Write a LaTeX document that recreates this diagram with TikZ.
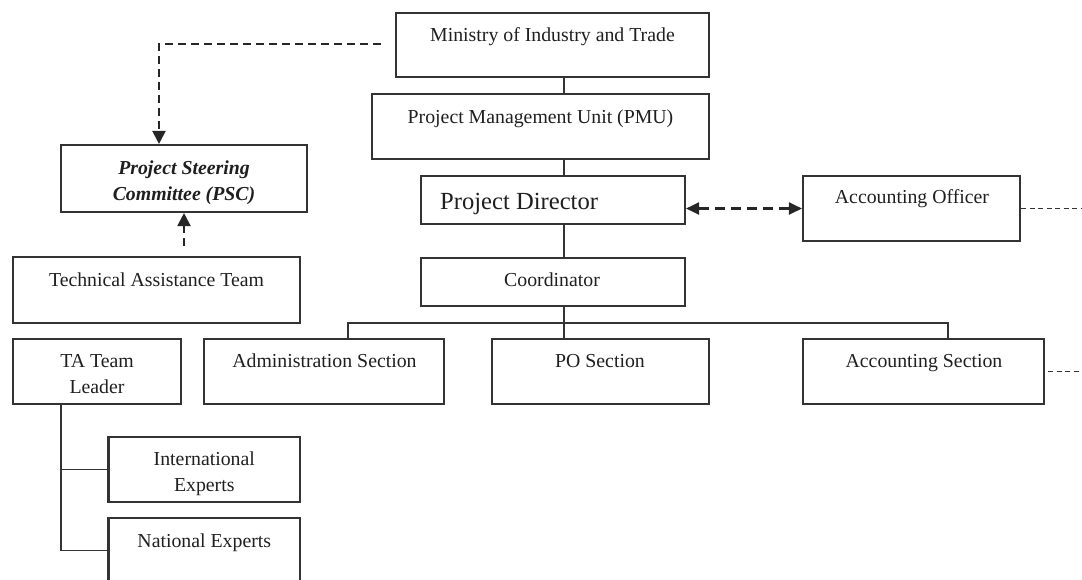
\documentclass[tikz,border=0pt]{standalone}
\usepackage{fontspec}
\setmainfont{Liberation Serif}
\usetikzlibrary{arrows.meta,calc}
\begin{document}
\begin{tikzpicture}[x=1pt,y=-1pt,
  box/.style={draw=black!80, line width=2.1pt, rectangle, inner sep=0pt, minimum height=65pt},
  txt/.style={anchor=base, inner sep=0pt, font=\fontsize{19.8}{24}\selectfont, text=black!88},
  link/.style={draw=black!80, line width=1.8pt},
  dlink/.style={draw=black!85, line width=2.1pt, dash pattern=on 8pt off 5pt},
  plink/.style={draw=black!85, line width=2.1pt, dash pattern=on 10pt off 6pt},
  tdash/.style={draw=black!80, line width=1.5pt, dash pattern=on 5pt off 3.5pt},
  tri/.style={-{Triangle[length=13pt,width=13pt]}},
  dtri/.style={{Triangle[length=13pt,width=12pt]}-{Triangle[length=13pt,width=12pt]}},
]
\useasboundingbox (0,0) rectangle (1082,579);
\clip (0,0) rectangle (1082,579);

% boxes
\node[box, minimum width=313pt, minimum height=64pt] (min) at (552.5,45) {};
\node[box, minimum width=337pt] (pmu) at (540.5,126.5) {};
\node[box, minimum width=264pt, minimum height=48pt] (pd) at (553,200) {};
\node[box, minimum width=264pt, minimum height=48pt] (co) at (553,282) {};
\node[box, minimum width=217pt] (ao) at (911.5,208.5) {};
\node[box, minimum width=246pt, minimum height=67pt] (psc) at (184,178.5) {};
\node[box, minimum width=287pt, minimum height=66pt] (tat) at (156.5,290) {};
\node[box, minimum width=168pt] (tal) at (97,371.5) {};
\node[box, minimum width=240pt] (adm) at (324,371.5) {};
\node[box, minimum width=217pt] (po) at (600.5,371.5) {};
\node[box, minimum width=241pt] (as) at (923.5,371.5) {};
\node[box, minimum width=191.5pt] (ie) at (204.25,469.5) {};
\node[box, minimum width=191.5pt] (ne) at (204.25,550.5) {};

% texts
\node[txt] (tmin) at (552.5,41.5) {Ministry of Industry and Trade};
\node[txt] (tpmu) at (540.5,123) {Project Management Unit (PMU)};
\node[txt, anchor=base west, font=\fontsize{24.6}{28}\selectfont] (tpd) at (440,209) {Project Director};
\node[txt] (tco) at (552,286) {Coordinator};
\node[txt] (tao) at (912,203.5) {Accounting Officer};
\node[txt, font=\fontsize{19.8}{24}\selectfont\bfseries\itshape] (tpsca) at (184,174.5) {Project Steering};
\node[txt, font=\fontsize{19.8}{24}\selectfont\bfseries\itshape] (tpscb) at (184,200) {Committee (PSC)};
\node[txt] (ttat) at (156.5,286) {Technical Assistance Team};
\node[txt] (ttala) at (97,367.7) {TA Team};
\node[txt] (ttalb) at (97,393.5) {Leader};
\node[txt] (tadm) at (324.5,367.7) {Administration Section};
\node[txt] (tpo) at (600,367.2) {PO Section};
\node[txt] (tas) at (924,367.7) {Accounting Section};
\node[txt] (tiea) at (204.3,465.7) {International};
\node[txt] (tieb) at (204.3,491) {Experts};
\node[txt] (tne) at (204.3,547.3) {National Experts};

% solid connectors
\coordinate (sp) at (564,0);
\coordinate (bus) at (0,323);
\coordinate (xa) at (348,0);
\coordinate (xs) at (948,0);
\coordinate (tx) at (61,0);
\draw[link] (min.south -| sp) -- (pmu.north -| sp);
\draw[link] (pmu.south -| sp) -- (pd.north -| sp);
\draw[link] (pd.south -| sp) -- (co.north -| sp);
\draw[link] (co.south -| sp) -- (po.north -| sp);
\draw[link] (adm.north -| xa) |- (bus -| xs) -- (as.north -| xs);
\draw[link] (tal.south -| tx) |- (ne.west);
\draw[link] (ie.west -| tx) -- (ie.west);

% dashed connectors
\coordinate (d1) at (381,44);
\coordinate (dx) at (159,0);
\draw[dlink, tri] (d1) -| (psc.north -| dx);
\coordinate (d2) at (184,246);
\draw[dlink, tri] (d2) -- (psc.south);
\draw[plink, dtri] (pd.east |- ao.west) -- (ao.west);
\coordinate (edge) at (1082,0);
\draw[tdash] (ao.east) -- (ao.east -| edge);
\draw[tdash] ($(as.east)+(3,0)$) -- (as.east -| edge);
\end{tikzpicture}
\end{document}
